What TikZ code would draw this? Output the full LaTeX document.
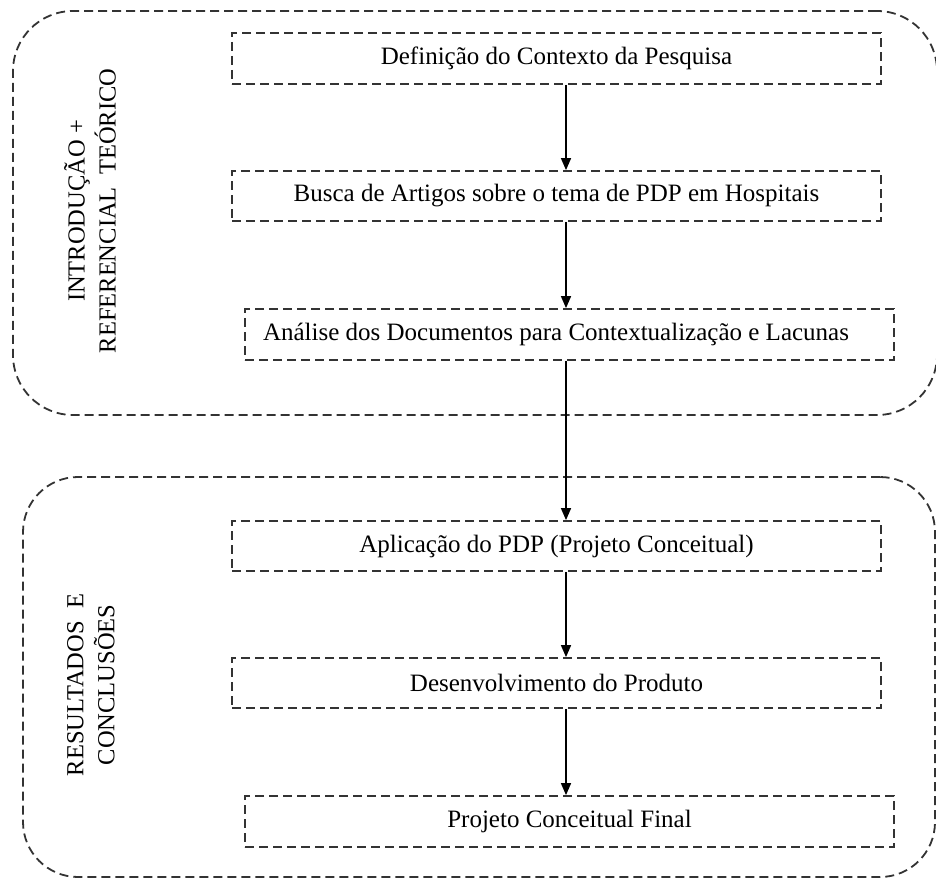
\documentclass[tikz,border=0pt]{standalone}
\usepackage{fontspec}
\setmainfont{Liberation Serif}
\usetikzlibrary{arrows.meta}
\begin{document}
\begin{tikzpicture}[x=1pt,y=-1pt,
  dsh/.style={draw=black!80, line width=1.8pt, dash pattern=on 9pt off 5pt},
  box/.style={dsh, rectangle, inner sep=0pt, minimum width=649pt, minimum height=50pt, font=\fontsize{25}{29}\selectfont},
  grp/.style={dsh, rectangle, rounded corners=60pt, inner sep=0pt},
  lbl/.style={rotate=90, align=center, font=\fontsize{24.5}{31}\selectfont},
  arr/.style={draw=black, line width=1.6pt, -{Triangle[length=12pt,width=10pt]}}]
\useasboundingbox (0,0) rectangle (936,880);
% groups
\node[grp, minimum width=924pt, minimum height=404pt] (g1) at (475,213) {};
\node[grp, minimum width=912pt, minimum height=400pt, rounded corners=55pt] (g2) at (479,677) {};
% group labels
\node[lbl] (l1) at (90,211) {INTRODUÇÃO +\\REFERENCIAL\ \ TEÓRICO};
\node[lbl] (l2) at (91,685) {RESULTADOS\ \ E\\CONCLUSÕES};
% steps
\node[box, minimum height=51pt] (b1) at (556.5,58.5) {Definição do Contexto da Pesquisa};
\node[box] (b2) at (556.5,196) {Busca de Artigos sobre o tema de PDP em Hospitais};
\node[box, minimum height=51pt] (b3) at (569.5,334.5) {Análise dos Documentos para Contextualização e Lacunas\hspace*{27pt}};
\node[box] (b4) at (556.5,546) {Aplicação do PDP (Projeto Conceitual)};
\node[box] (b5) at (556.5,683) {Desenvolvimento do Produto};
\node[box, minimum height=51pt] (b6) at (569.5,821.5) {Projeto Conceitual Final};
% arrows
\coordinate (ax) at (566,0);
\draw[arr] (b1.south -| ax) -- (b2.north -| ax);
\draw[arr] (b2.south -| ax) -- (b3.north -| ax);
\draw[arr] (b3.south -| ax) -- (b4.north -| ax);
\draw[arr] (b4.south -| ax) -- (b5.north -| ax);
\draw[arr] (b5.south -| ax) -- (b6.north -| ax);
\end{tikzpicture}
\end{document}
